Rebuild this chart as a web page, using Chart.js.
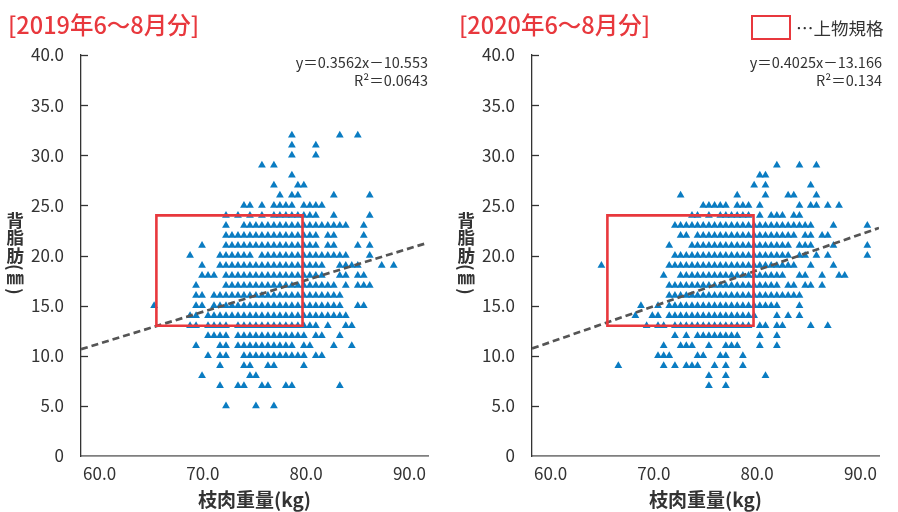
<!DOCTYPE html>
<html lang="ja">
<head>
<meta charset="utf-8">
<title>背脂肪と枝肉重量</title>
<script src="https://cdn.jsdelivr.net/npm/chart.js@4.4.1/dist/chart.umd.min.js"></script>
<style>
  html, body { margin: 0; padding: 0; background: #fff; width: 898px; height: 512px; overflow: hidden; }
  body { position: relative; font-family: "Noto Sans CJK JP", sans-serif; color: #333; }
  .panel { position: absolute; top: 0; width: 449px; height: 512px; }
  .panel canvas { position: absolute; left: 0; top: 0; }
  .ttl { position: absolute; left: 8px; top: 13px; font-size: 23.5px; line-height: 23.5px; color: #e8383d; font-weight: 500; white-space: nowrap; }
  .eq { position: absolute; font-size: 14.5px; line-height: 14.5px; text-align: right; white-space: nowrap; color: #333; }
  .ytitle { position: absolute; left: 15px; top: 253px; transform: translate(-50%, -50%); writing-mode: vertical-rl; font-size: 17.5px; line-height: 17.5px; font-weight: 700; color: #333; white-space: nowrap; }
  .xtitle { position: absolute; left: 254.5px; top: 498px; transform: translate(-50%, -50%); font-size: 19px; line-height: 19px; font-weight: 700; color: #333; white-space: nowrap; }
  .legbox { position: absolute; left: 751px; top: 15px; width: 40px; height: 24.5px; box-sizing: border-box; border: 2.5px solid #e8383d; }
  .legtext { position: absolute; left: 796px; top: 19px; font-size: 17.5px; line-height: 17.5px; color: #333; white-space: nowrap; }
</style>
</head>
<body>
<div class="panel" id="p2019" style="left:0px">
  <canvas id="c2019" width="449" height="512"></canvas>
  <div class="ttl">[2019年6～8月分]</div>
  <div class="eq" style="right:21px; top:54.5px">y＝0.3562x－10.553</div>
  <div class="eq" style="right:21px; top:72.5px">R²＝0.0643</div>
  <div class="ytitle">背脂肪(㎜)</div>
  <div class="xtitle">枝肉重量(kg)</div>
</div>
<div class="panel" id="p2020" style="left:451px">
  <canvas id="c2020" width="449" height="512"></canvas>
  <div class="ttl">[2020年6～8月分]</div>
  <div class="eq" style="right:18px; top:54.5px">y＝0.4025x－13.166</div>
  <div class="eq" style="right:18px; top:72.5px">R²＝0.134</div>
  <div class="ytitle">背脂肪(㎜)</div>
  <div class="xtitle">枝肉重量(kg)</div>
</div>
<div class="legbox"></div>
<div class="legtext">…上物規格</div>

<script>
// carcass weight columns (kg) the triangles sit on
const weightBins2019 = [64.70, 65.28, 65.86, 66.44, 67.02, 67.60, 68.18, 68.76, 69.34, 69.92,
  70.50, 71.08, 71.66, 72.24, 72.82, 73.40, 73.98, 74.56, 75.14, 75.72,
  76.30, 76.88, 77.46, 78.04, 78.62, 79.20, 79.78, 80.36, 80.94, 81.52,
  82.10, 82.68, 83.26, 83.84, 84.42, 85.00, 85.58, 86.16, 86.74, 87.32,
  87.90, 88.48];
const weightBins2020 = [64.37, 64.92, 65.47, 66.01, 66.56, 67.11, 67.66, 68.21, 68.75, 69.30,
  69.85, 70.40, 70.95, 71.49, 72.04, 72.59, 73.14, 73.69, 74.23, 74.78,
  75.33, 75.88, 76.43, 76.97, 77.52, 78.07, 78.62, 79.17, 79.71, 80.26,
  80.81, 81.36, 81.91, 82.45, 83.00, 83.55, 84.10, 84.65, 85.19, 85.74,
  86.29, 86.84, 87.39, 87.93, 88.48, 89.03, 89.58, 90.13, 90.67];

// backfat (mm) of each row, and which weight columns carry a triangle ('#')
const fatLevels2019 = [32, 31, 30, 29, 28, 27, 26, 25, 24, 23, 22, 21, 20, 19, 18, 17, 16, 15, 14, 13, 12, 11, 10, 9, 8, 7, 5];
const marks2019 = [
  "..........|..........|....#.....|..#..#....|..",
  "..........|..........|....#...#.|..........|..",
  "..........|..........|....#...#.|..........|..",
  "..........|.........#|.#........|..........|..",
  "..........|..........|....#.....|..........|..",
  "..........|..........|.#...##...|..........|..",
  "..........|..........|..#.##....|.#.....#..|..",
  "..........|......##.#|.####.####|..........|..",
  "..........|...#.#.#.#|.########.|.#.....#..|..",
  "..........|...#..####|##########|####..#...|..",
  "..........|...#######|#########.|##....#...|..",
  ".........#|...#######|#########.|##...#.#..|..",
  ".......#..|..######.#|##########|####...#..|..",
  ".........#|..########|##########|..####...#|.#",
  ".........#|##.#######|##########|..##.##...|..",
  "........#.|...#######|##########|##.#.###..|..",
  "........##|.#########|##########|###.......|..",
  ".#......##|.#########|##########|###..##...|..",
  ".......##.|##########|##########|####......|..",
  ".......##.|####.#####|#########.|#..##.....|..",
  "..........|####.#####|#######.##|..#.......|..",
  "........#.|..##.#####|#####.##..|.#..#.....|..",
  "..........|#.##..####|#######.##|..........|..",
  "..........|..#...##..|##....#...|..........|..",
  ".........#|.......##.|..........|..........|..",
  "..........|..#..##..#|#..##.....|..#.......|..",
  "..........|...#....#.|.#........|..........|.."
];
const fatLevels2020 = [29, 28, 27, 26, 25, 24, 23, 22, 21, 20, 19, 18, 17, 16, 15, 14, 13, 12, 11, 10, 9, 8, 7];
const marks2020 = [
  "..........|..........|..........|..#...#..#|.........",
  "..........|..........|.........#|#.........|.........",
  "..........|..........|........#.|#.......#.|.........",
  "..........|.....#....|.....#....|#...##...#|.........",
  "..........|.........#|####.###.#|......#.##|.#.#.....",
  "..........|.......##.|#.######.#|.###.##...|.........",
  "..........|....######|##########|#########.|..#.....#",
  "..........|.....##.##|##########|######.##.|##.......",
  "..........|...#...###|##########|#####.###.|..#.....#",
  "..........|....######|##########|#####.##.#|.#......#",
  ".#........|...#######|##########|######..#.|..#......",
  "..........|..#..#####|##########|####..##..|#..##....",
  "..........|...#######|##########|###.##.##.|#........",
  "..........|...#######|##########|#######...|.........",
  "........#.|.#.#######|##########|###...#...|.........",
  ".......#..|##.#######|#########.|..#.#.#...|.........",
  ".........#|.##.######|########.#|#.##....#.|.#.......",
  "..........|....#.#.##|######...#|..#.......|.........",
  "..........|..#..###..|#..###...#|..#.......|.........",
  "..........|.###....##|..##..#...|..........|.........",
  "....#.....|..#.#.###.|.#.#..#...|..........|.........",
  "..........|..........|#..#......|#.........|.........",
  "..........|..........|#..#......|..........|........."
];

// dashed trend line as drawn, read at the two ends of the x axis
const trendX = [58.2, 91.8];
const trendY2019 = [10.65, 21.28];
const trendY2020 = [10.72, 22.75];

// 上物規格 box
const specX = [65.5, 79.65];
const specY = [13, 24];

const xTicks = [60, 70, 80, 90];
const yTicks = [0, 5, 10, 15, 20, 25, 30, 35, 40];

Chart.defaults.font.family = '"Noto Sans CJK JP", sans-serif';

function toPoints(bins, levels, marks) {
  const pts = [];
  levels.forEach((fat, r) => {
    const row = marks[r].replace(/\|/g, '');
    for (let k = 0; k < row.length && k < bins.length; k++) {
      if (row[k] === '#') pts.push({x: bins[k], y: fat});
    }
  });
  return pts;
}

// short tick marks on the inner side of the y axis
const innerTicks = {
  id: 'innerTicks',
  afterDatasetsDraw(chart) {
    const ys = chart.scales.y;
    const left = chart.chartArea.left;
    const ctx = chart.ctx;
    ctx.save();
    ctx.strokeStyle = '#333';
    ctx.lineWidth = 1.3;
    ys.ticks.forEach(t => {
      if (t.value === 0) return;
      const py = Math.round(ys.getPixelForValue(t.value)) + 0.5;
      ctx.beginPath();
      ctx.moveTo(left, py);
      ctx.lineTo(left + 7, py);
      ctx.stroke();
    });
    ctx.restore();
  }
};

function graphIt(canvasId, bins, levels, marks, trendY) {
  const ctx = document.getElementById(canvasId).getContext('2d');
  const box = [
    {x: specX[0], y: specY[0]}, {x: specX[0], y: specY[1]},
    {x: specX[1], y: specY[1]}, {x: specX[1], y: specY[0]},
    {x: specX[0], y: specY[0]}
  ];
  return new Chart(ctx, {
    type: 'scatter',
    data: {
      datasets: [
        {label: '上物規格', data: box, showLine: true, borderColor: '#e8383d', borderWidth: 2.6,
          borderJoinStyle: 'miter', borderCapStyle: 'square', pointRadius: 0, order: 1},
        {label: 'trend', data: trendX.map((x, i) => ({x: x, y: trendY[i]})), showLine: true,
          borderColor: '#555', borderWidth: 2.7, borderDash: [7, 4], pointRadius: 0, order: 2},
        {label: '背脂肪', data: toPoints(bins, levels, marks), pointStyle: 'triangle', pointRadius: 4.5,
          backgroundColor: '#0a7cc2', borderWidth: 0, order: 3}
      ]
    },
    options: {
      responsive: false,
      animation: false,
      events: [],
      layout: {padding: {top: 55, right: 21, bottom: 0, left: 0}},
      plugins: {legend: {display: false}, tooltip: {enabled: false}},
      scales: {
        x: {
          type: 'linear', min: trendX[0], max: trendX[1],
          afterBuildTicks: s => { s.ticks = xTicks.map(v => ({value: v})); },
          afterFit: s => { s.height = 56; },
          grid: {display: false},
          border: {display: true, color: '#7f7f7f', width: 1.8},
          ticks: {padding: -1, color: '#333', font: {size: 17}, maxRotation: 0, autoSkip: false,
            callback: v => v.toFixed(1)}
        },
        y: {
          min: 0, max: 40,
          afterBuildTicks: s => { s.ticks = yTicks.map(v => ({value: v})); },
          afterFit: s => { s.width = 81; },
          grid: {display: false},
          border: {display: true, color: '#333', width: 1.3},
          ticks: {padding: 9, color: '#333', font: {size: 17},
            callback: v => v === 0 ? '0' : v.toFixed(1)}
        }
      }
    },
    plugins: [innerTicks]
  });
}

graphIt('c2019', weightBins2019, fatLevels2019, marks2019, trendY2019);
graphIt('c2020', weightBins2020, fatLevels2020, marks2020, trendY2020);
</script>
</body>
</html>
